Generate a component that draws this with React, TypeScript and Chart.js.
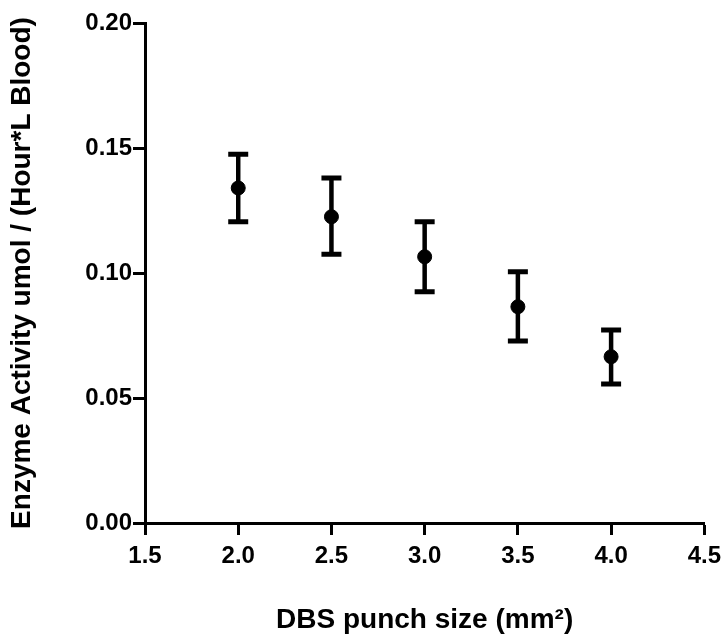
import React, { useEffect, useRef } from "react";
import { Chart, registerables } from "chart.js";

Chart.register(...registerables);

const punchSizes = [2.0, 2.5, 3.0, 3.5, 4.0];
const meanActivity = [0.134, 0.1225, 0.1065, 0.0865, 0.0665];
const upperActivity = [0.1475, 0.138, 0.1205, 0.1005, 0.0772];
const lowerActivity = [0.1205, 0.1075, 0.0925, 0.0728, 0.0556];

const xTitle = "DBS punch size (mm²)";
const yTitle = "Enzyme Activity umol / (Hour*L Blood)";

const FONT = "'Liberation Sans', Arial, Helvetica, sans-serif";

export default function App() {
  const canvasRef = useRef<HTMLCanvasElement | null>(null);

  useEffect(() => {
    const canvas = canvasRef.current;
    if (!canvas) return;

    const stems: any[] = [];
    punchSizes.forEach((x, i) => {
      stems.push({ x, y: lowerActivity[i] });
      stems.push({ x, y: upperActivity[i] });
      stems.push({ x, y: null });
    });
    const caps: any[] = [];
    punchSizes.forEach((x, i) => {
      caps.push({ x, y: upperActivity[i] });
      caps.push({ x, y: lowerActivity[i] });
    });
    const means = punchSizes.map((x, i) => ({ x, y: meanActivity[i] }));

    const chart = new Chart(canvas, {
      type: "scatter",
      data: {
        datasets: [
          {
            label: "stems",
            data: stems,
            showLine: true,
            spanGaps: false,
            borderColor: "#000",
            borderWidth: 4.5,
            pointRadius: 0,
            pointHoverRadius: 0,
          },
          {
            label: "caps",
            data: caps,
            pointStyle: "line",
            pointRadius: 10,
            pointHoverRadius: 10,
            borderColor: "#000",
            backgroundColor: "#000",
            pointBorderWidth: 5,
            borderWidth: 5,
            showLine: false,
          },
          {
            label: "mean",
            data: means,
            pointStyle: "circle",
            pointRadius: 7,
            pointHoverRadius: 7,
            borderColor: "#000",
            backgroundColor: "#000",
            borderWidth: 1,
            showLine: false,
          },
        ],
      },
      options: {
        animation: false,
        responsive: true,
        maintainAspectRatio: false,
        layout: { padding: { left: 0, top: 23, right: 22, bottom: 0 } },
        plugins: {
          legend: { display: false },
          tooltip: { enabled: false },
        },
        scales: {
          x: {
            type: "linear",
            min: 1.5,
            max: 4.5,
            afterFit: (scale: any) => {
              scale.height = 117;
            },
            ticks: {
              stepSize: 0.5,
              color: "#000",
              padding: 7,
              font: { family: FONT, size: 24, weight: "bold" },
              callback: (v: any) => Number(v).toFixed(1),
            },
            grid: {
              drawOnChartArea: false,
              drawTicks: true,
              tickLength: 12,
              tickWidth: 3,
              tickColor: "#000",
            },
            border: { display: true, color: "#000", width: 3 },
            title: {
              display: true,
              text: xTitle,
              color: "#000",
              font: { family: FONT, size: 28, weight: "bold" },
              padding: { top: 0, bottom: 3 },
            },
          },
          y: {
            type: "linear",
            min: 0,
            max: 0.2,
            afterFit: (scale: any) => {
              scale.width = 145;
            },
            ticks: {
              stepSize: 0.05,
              color: "#000",
              padding: 1,
              font: { family: FONT, size: 24, weight: "bold" },
              callback: (v: any) => Number(v).toFixed(2),
            },
            grid: {
              drawOnChartArea: false,
              drawTicks: true,
              tickLength: 12,
              tickWidth: 3,
              tickColor: "#000",
            },
            border: { display: true, color: "#000", width: 3 },
            title: {
              display: true,
              text: yTitle,
              color: "#000",
              font: { family: FONT, size: 28, weight: "bold" },
              padding: { top: 5, bottom: 0 },
            },
          },
        },
      },
    });

    return () => chart.destroy();
  }, []);

  return (
    <div
      style={{
        position: "absolute",
        left: 0,
        top: 0,
        width: 728,
        height: 640,
        background: "#fff",
      }}
    >
      <canvas ref={canvasRef} />
    </div>
  );
}
